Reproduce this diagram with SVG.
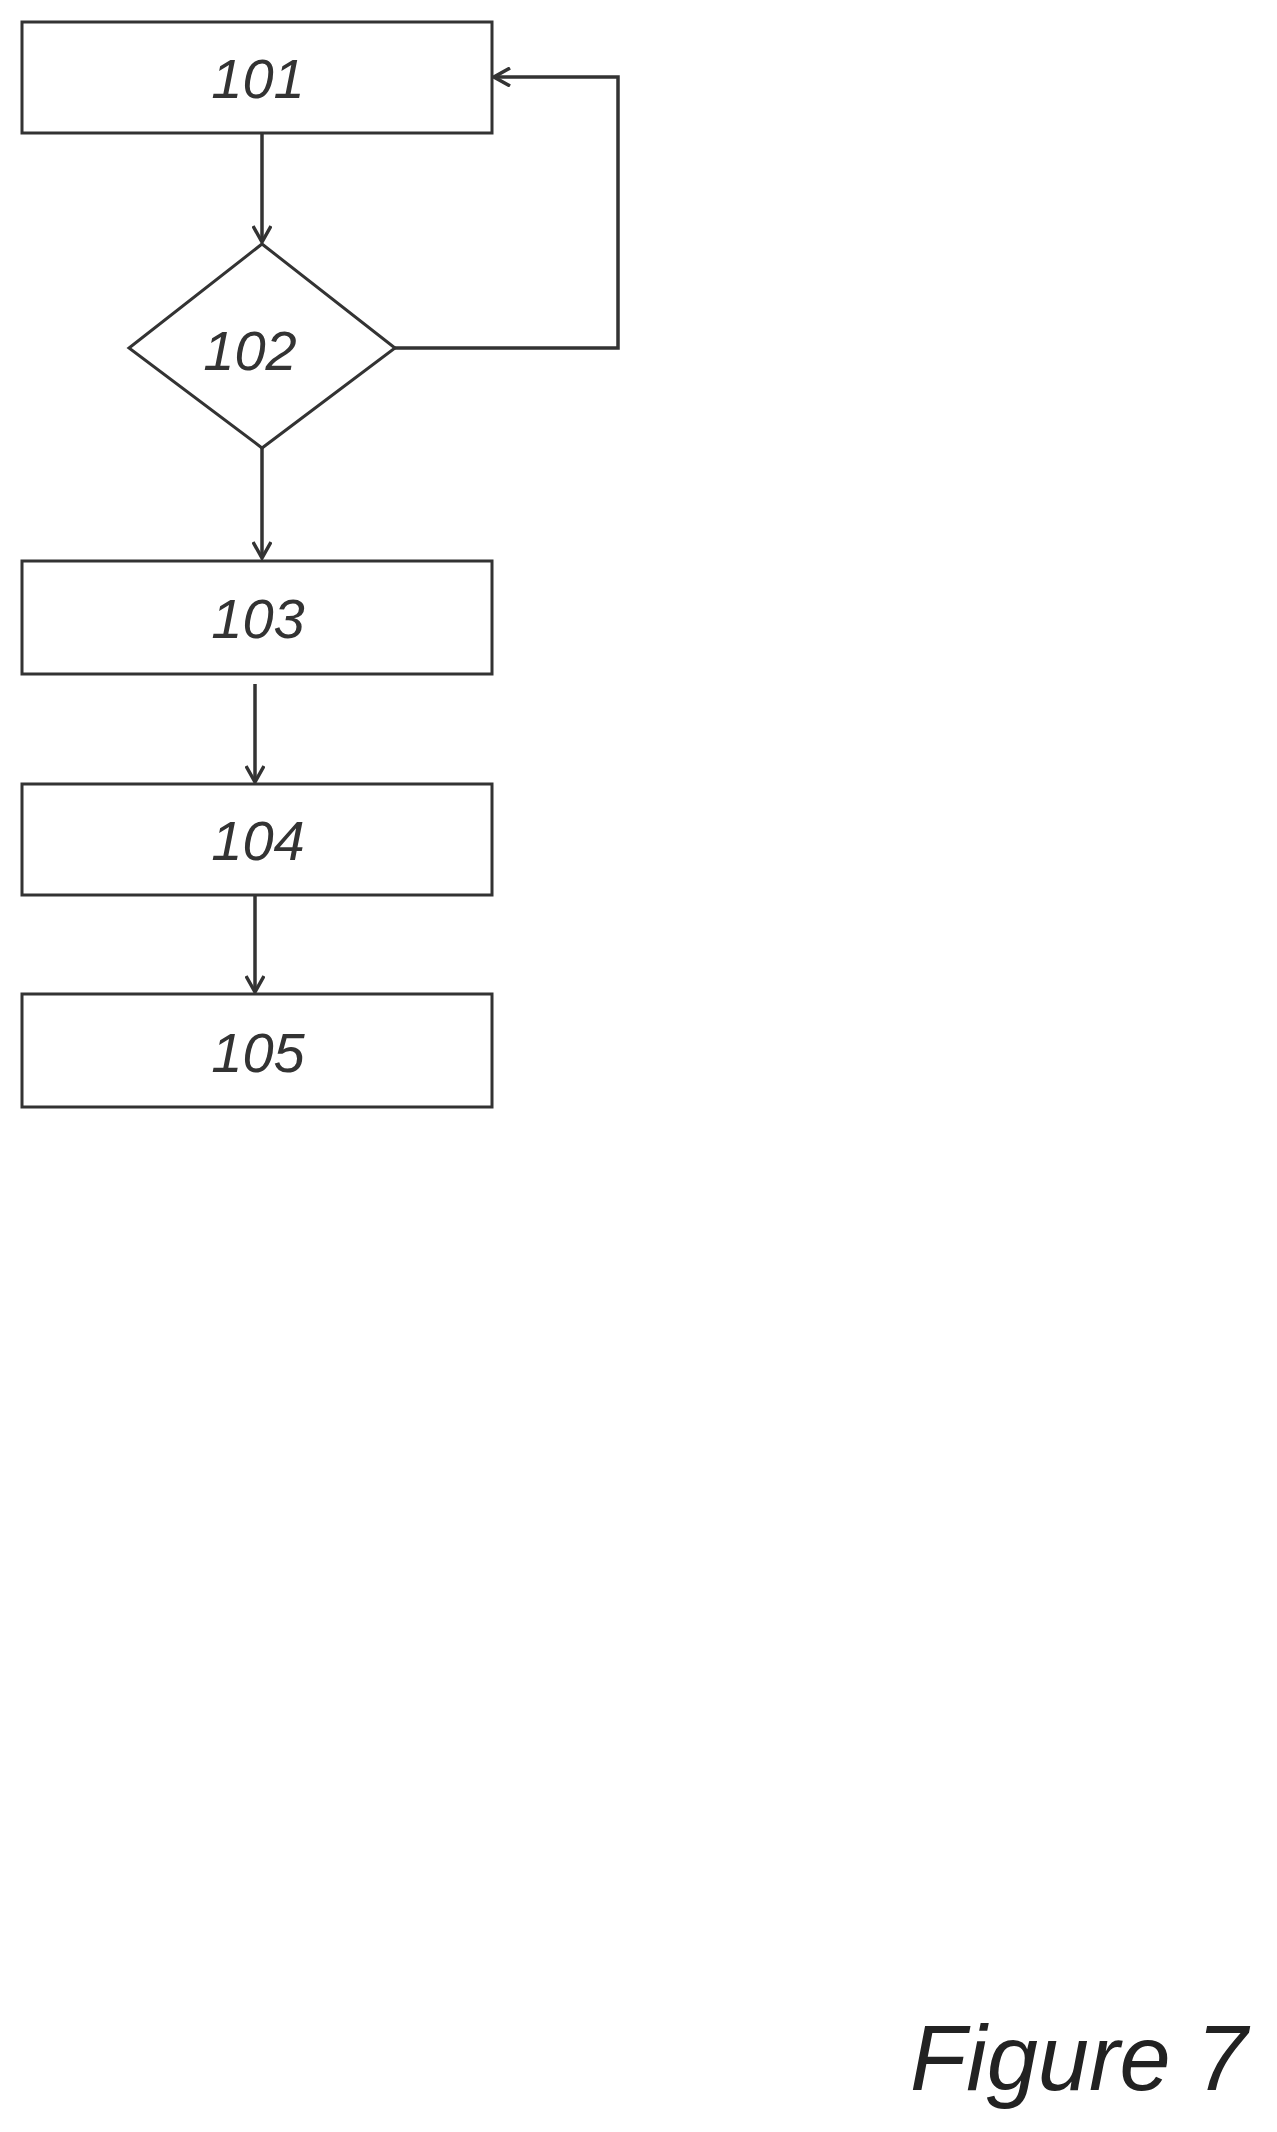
<svg xmlns="http://www.w3.org/2000/svg" width="1277" height="2132" viewBox="0 0 1277 2132">
<style>
.n{fill:#fff;stroke:#333;stroke-width:3}
.t{font-family:"Liberation Sans",Arial,sans-serif;font-style:italic;font-size:56px;fill:#333;text-anchor:middle}
.c{fill:none;stroke:#333;stroke-width:3.5}
</style>
<defs><marker id="a" markerWidth="20" markerHeight="20" refX="18" refY="10" orient="auto" markerUnits="userSpaceOnUse"><path d="M2,1 L18,10 L2,19" fill="none" stroke="#333" stroke-width="3.5"/></marker></defs>
<rect width="1277" height="2132" fill="#fff"/>
<g id="connectors">
<path class="c" d="M262,134 V242" marker-end="url(#a)"/>
<path class="c" d="M262,448 V558" marker-end="url(#a)"/>
<path class="c" d="M255,684 V782" marker-end="url(#a)"/>
<path class="c" d="M255,896 V992" marker-end="url(#a)"/>
<path class="c" d="M395,348 H618 V77 H494" marker-end="url(#a)"/>
</g>
<g id="n101"><rect class="n" x="22" y="22" width="470" height="111"/><text class="t" x="258" y="98">101</text></g>
<g id="n102"><polygon class="n" points="262,244 395,348 262,448 129,348"/><text class="t" x="250" y="370">102</text></g>
<g id="n103"><rect class="n" x="22" y="561" width="470" height="113"/><text class="t" x="258" y="638">103</text></g>
<g id="n104"><rect class="n" x="22" y="784" width="470" height="111"/><text class="t" x="258" y="860">104</text></g>
<g id="n105"><rect class="n" x="22" y="994" width="470" height="113"/><text class="t" x="258" y="1072">105</text></g>
<text x="910" y="2090" font-family="Liberation Sans,Arial,sans-serif" font-style="italic" font-size="92" fill="#222">Figure 7</text>
</svg>
